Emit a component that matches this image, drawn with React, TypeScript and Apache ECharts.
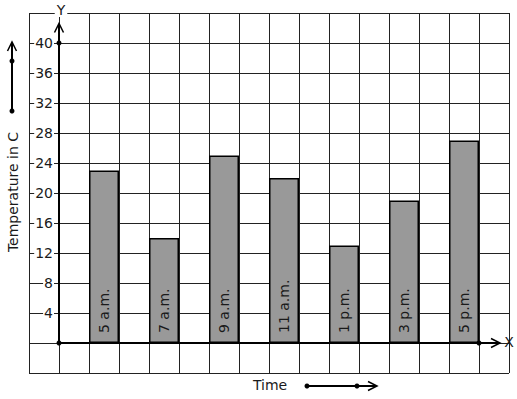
import React, { useEffect, useRef } from 'react';
import * as echarts from 'echarts';

const categories = ['5 a.m.', '7 a.m.', '9 a.m.', '11 a.m.', '1 p.m.', '3 p.m.', '5 p.m.'];
const temperatures = [23, 14, 25, 22, 13, 19, 27];
const barPositions = [1.5, 3.5, 5.5, 7.5, 9.5, 11.5, 13.5];
const yTickLabels = [4, 8, 12, 16, 20, 24, 28, 32, 36, 40];
const yAxisTitle = 'Temperature in C';
const xAxisTitle = 'Time';

const FONT = 'DejaVu Sans, Verdana, sans-serif';
const INK = '#1a1a1a';

export default function App() {
  const ref = useRef<HTMLDivElement>(null);

  useEffect(() => {
    if (!ref.current) return;
    const chart = echarts.init(ref.current, null, { renderer: 'svg' });
    chart.setOption({
      animation: false,
      textStyle: { fontFamily: FONT },
      grid: { left: 29, top: 13, width: 480, height: 360, containLabel: false },
      xAxis: {
        type: 'value',
        min: -1,
        max: 15,
        interval: 1,
        axisLine: { show: false },
        axisTick: { show: false },
        axisLabel: { show: false },
        splitLine: { show: true, lineStyle: { color: '#222', width: 1 } },
      },
      yAxis: {
        type: 'value',
        min: -4,
        max: 44,
        interval: 4,
        offset: -30,
        axisLine: { show: false, onZero: false },
        axisTick: { show: false },
        axisLabel: {
          show: true,
          margin: 5,
          formatter: (v: number) => (yTickLabels.includes(v) ? `{b|${v}}` : ''),
          rich: {
            b: {
              backgroundColor: '#fff',
              color: INK,
              fontSize: 14,
              fontFamily: FONT,
              padding: [0, 1, 0, 1],
            },
          },
        },
        splitLine: { show: true, lineStyle: { color: '#222', width: 1 } },
      },
      series: [
        {
          type: 'bar',
          barWidth: 30,
          data: barPositions.map((x, i) => [x, temperatures[i]]),
          itemStyle: { color: '#999999', borderColor: '#000', borderWidth: 1.5 },
          label: {
            show: true,
            position: 'insideBottom',
            distance: 10,
            rotate: 90,
            align: 'left',
            verticalAlign: 'middle',
            color: INK,
            fontSize: 14,
            fontFamily: FONT,
            formatter: (p: any) => categories[p.dataIndex],
          },
          z: 3,
        },
      ],
    });

    const [ox, oy] = chart.convertToPixel({ gridIndex: 0 }, [0, 0]) as number[];
    const topY = (chart.convertToPixel({ gridIndex: 0 }, [0, 42.6]) as number[])[1];
    const y40 = (chart.convertToPixel({ gridIndex: 0 }, [0, 40]) as number[])[1];
    const rightX = (chart.convertToPixel({ gridIndex: 0 }, [14.7, 0]) as number[])[0];
    const x14 = (chart.convertToPixel({ gridIndex: 0 }, [14, 0]) as number[])[0];
    const gridTop = 13;

    const stroke = { stroke: '#000', lineWidth: 2 };
    const thin = { stroke: '#000', lineWidth: 1.5, fill: 'none' };
    const dot = (x: number, y: number) => ({
      type: 'circle',
      shape: { cx: x, cy: y, r: 2.5 },
      style: { fill: '#000' },
      z: 10,
    });

    chart.setOption({
      graphic: [
        { type: 'line', shape: { x1: ox, y1: oy, x2: ox, y2: topY + 1 }, style: stroke, z: 9 },
        {
          type: 'polyline',
          shape: { points: [[ox - 4.5, topY + 9], [ox, topY], [ox + 4.5, topY + 9]] },
          style: thin,
          z: 9,
        },
        { type: 'line', shape: { x1: ox, y1: oy, x2: rightX - 1, y2: oy }, style: stroke, z: 9 },
        {
          type: 'polyline',
          shape: { points: [[rightX - 9, oy - 4.5], [rightX, oy], [rightX - 9, oy + 4.5]] },
          style: thin,
          z: 9,
        },
        dot(ox, oy),
        dot(ox, y40),
        dot(x14, oy),
        {
          type: 'text',
          x: ox + 2,
          y: gridTop - 3,
          style: {
            text: 'Y',
            fontSize: 14,
            fontFamily: FONT,
            fill: INK,
            align: 'center',
            verticalAlign: 'middle',
            backgroundColor: '#fff',
            padding: [0, 2, 0, 2],
          },
          z: 9,
        },
        {
          type: 'text',
          x: rightX + 9,
          y: oy - 1,
          style: { text: 'X', fontSize: 14, fontFamily: FONT, fill: INK, align: 'center', verticalAlign: 'middle' },
          z: 9,
        },
        // left vertical arrow beside the axis title
        { type: 'line', shape: { x1: 12, y1: 111, x2: 12, y2: 43 }, style: stroke, z: 9 },
        {
          type: 'polyline',
          shape: { points: [[7.5, 51], [12, 42], [16.5, 51]] },
          style: thin,
          z: 9,
        },
        dot(12, 111),
        dot(12, 61),
        {
          type: 'text',
          x: 13,
          y: 192,
          rotation: Math.PI / 2,
          style: {
            text: yAxisTitle,
            fontSize: 14,
            fontFamily: FONT,
            fill: INK,
            align: 'center',
            verticalAlign: 'middle',
          },
          z: 9,
        },
        {
          type: 'text',
          x: 270,
          y: 385,
          style: {
            text: xAxisTitle,
            fontSize: 14,
            fontFamily: FONT,
            fill: INK,
            align: 'center',
            verticalAlign: 'middle',
          },
          z: 9,
        },
        { type: 'line', shape: { x1: 307, y1: 386, x2: 376, y2: 386 }, style: stroke, z: 9 },
        {
          type: 'polyline',
          shape: { points: [[368, 381.5], [377, 386], [368, 390.5]] },
          style: thin,
          z: 9,
        },
        dot(307, 386),
        dot(357, 386),
      ],
    });

    return () => chart.dispose();
  }, []);

  return (
    <div
      ref={ref}
      style={{ position: 'fixed', left: 0, top: 0, width: 517, height: 399, background: '#fff' }}
    />
  );
}
